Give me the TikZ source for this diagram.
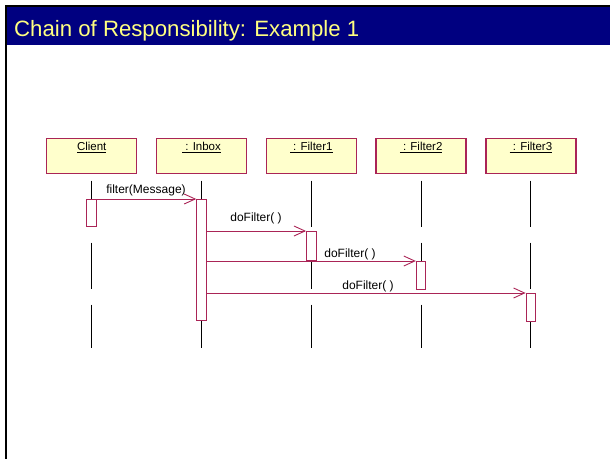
\documentclass[tikz,border=0pt]{standalone}
\usepackage{fontspec}
\setmainfont{Liberation Sans}
\usetikzlibrary{arrows.meta}
\definecolor{navy}{RGB}{0,0,128}
\definecolor{ttlyellow}{RGB}{255,255,128}
\definecolor{boxfill}{RGB}{255,255,204}
\definecolor{umlred}{RGB}{170,36,86}
\tikzset{
  objbox/.style={draw=umlred, line width=1.3pt, fill=boxfill, minimum width=90pt, minimum height=35pt, inner sep=0pt},
  objlabel/.style={font=\fontsize{11.5}{12}\selectfont, anchor=center},
  lifeline/.style={draw=black, line width=0.9pt, dash pattern=on 46pt off 16pt},
  actbox/.style={draw=umlred, line width=1pt, fill=white, minimum width=9.5pt, inner sep=0pt, anchor=north},
  msg/.style={draw=umlred, line width=0.9pt, -{Straight Barb[length=11pt,width=10pt,line width=0.9pt]}},
  msglabel/.style={font=\fontsize{12}{13}\selectfont, inner sep=0pt}
}
\begin{document}
\begin{tikzpicture}[x=1pt,y=-1pt]
\useasboundingbox (0,0) rectangle (610,459);
\fill[white] (0,0) rectangle (610,459);
% frame and title bar
\fill[black] (5,5) rectangle (610,7);
\fill[black] (5,5) rectangle (7,459);
\fill[navy] (7,7) rectangle (610,45);
\node[anchor=base west, inner sep=0pt, text=ttlyellow, font=\fontsize{22.2}{24}\selectfont] (title) at (14,36.5) {Chain of Responsibility: Example 1};
% object boxes
\node[objbox] (client) at (91.7,155.8) {};
\node[objbox] (inbox) at (201.5,155.8) {};
\node[objbox] (f1) at (311.3,155.8) {};
\node[objbox] (f2) at (421.1,155.8) {};
\node[objbox] (f3) at (530.9,155.8) {};
\node[objlabel] (clientlbl) at (91.7,147.3) {\underline{Client}};
\node[objlabel] (inboxlbl) at (201.5,147.3) {\underline{~: Inbox}};
\node[objlabel] (f1lbl) at (311.3,147.3) {\underline{~: Filter1}};
\node[objlabel] (f2lbl) at (421.1,147.3) {\underline{~: Filter2}};
\node[objlabel] (f3lbl) at (530.9,147.3) {\underline{~: Filter3}};
% lifelines
\foreach \o in {client,inbox,f1,f2,f3}{
  \coordinate (\o top) at ([yshift=-6.7pt]\o.south);
  \coordinate (\o bot) at ([yshift=-173.7pt]\o.south);
  \draw[lifeline] (\o top) -- (\o bot);
}
% activations
\node[actbox, minimum height=27pt] (clientact) at (91.7,199) {};
\node[actbox, minimum height=121pt] (inboxact) at (201.5,199) {};
\node[actbox, minimum height=28.5pt] (f1act) at (311.3,231) {};
\node[actbox, minimum height=27.5pt] (f2act) at (421.1,261) {};
\node[actbox, minimum height=28pt] (f3act) at (530.9,293) {};
% messages
\draw[msg] (clientact.north east) -- (inboxact.north west);
\draw[msg] (inboxact.east |- f1act.north west) -- (f1act.north west);
\draw[msg] (inboxact.east |- f2act.north west) -- (f2act.north west);
\draw[msg] (inboxact.east |- f3act.north west) -- (f3act.north west);
\node[msglabel] (l1) at (146,190.5) {filter(Message)};
\node[msglabel] (l2) at (256,218) {doFilter( )};
\node[msglabel] (l3) at (350,254.5) {doFilter( )};
\node[msglabel] (l4) at (368,286.5) {doFilter( )};
\end{tikzpicture}
\end{document}
